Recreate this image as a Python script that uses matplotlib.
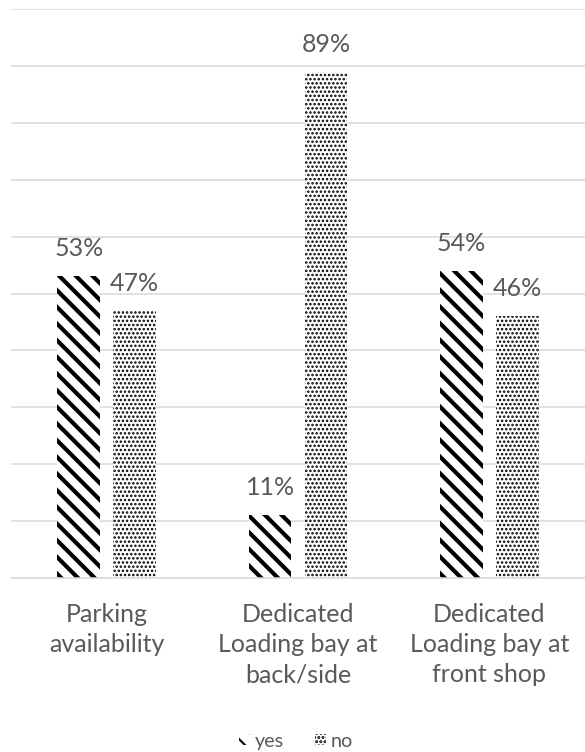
import matplotlib
matplotlib.use('Agg')
import matplotlib as mpl
import matplotlib.pyplot as plt
from matplotlib.patches import Patch
import numpy as np

# Data
categories = ['Parking\navailability',
              'Dedicated\nLoading bay at\nback/side',
              'Dedicated\nLoading bay at\nfront shop']
yes_vals = [0.53, 0.11, 0.54]
no_vals = [0.47, 0.89, 0.46]
series_names = ['yes', 'no']

TXT = '#595959'
GRID = '#d9d9d9'
plt.rcParams['font.family'] = ['Lato', 'DejaVu Sans']

YES_HATCH, YES_HLW = '\\\\\\', 2.0
NO_HATCH, NO_HLW = '......', 0.8

dpi = 150
fig = plt.figure(figsize=(585 / dpi, 753 / dpi), dpi=dpi)
ax = fig.add_axes([11 / 585, 1 - 579 / 753, 1 - 11 / 585, (579 - 10) / 753])

x = np.arange(len(categories))
width = 0.224
off = 0.146


def hatched_bar(xpos, vals, hatch, hlw):
    with mpl.rc_context({'hatch.linewidth': hlw}):
        bars = ax.bar(xpos, vals, width, facecolor='white', edgecolor='black',
                      linewidth=0, hatch=hatch)
    for b in bars:
        if hasattr(b, 'set_hatch_linewidth'):
            b.set_hatch_linewidth(hlw)
    return bars


b_yes = hatched_bar(x - off, yes_vals, YES_HATCH, YES_HLW)
b_no = hatched_bar(x + off, no_vals, NO_HATCH, NO_HLW)

# value labels
for xs, vals in [(x - off, yes_vals), (x + off, no_vals)]:
    for xi, v in zip(xs, vals):
        ax.text(xi, v + 0.05, '{:.0f}%'.format(v * 100), ha='center', va='center',
                color=TXT, fontsize=12)

ax.set_xlim(-0.5, len(categories) - 0.5)
ax.set_ylim(0, 1.0)
ax.set_yticks(np.arange(0, 1.01, 0.1))
ax.yaxis.grid(True, color=GRID, linewidth=0.75)
ax.set_axisbelow(True)
ax.tick_params(axis='y', left=False, labelleft=False)
ax.tick_params(axis='x', bottom=False, pad=8, colors=TXT, labelsize=12)
ax.set_xticks(x)
ax.set_xticklabels(categories, linespacing=1.38)
for s in ['top', 'right', 'left']:
    ax.spines[s].set_visible(False)
ax.spines['bottom'].set_color(GRID)
ax.spines['bottom'].set_linewidth(0.75)

# legend
handles = []
for name, hatch, hlw in [('yes', YES_HATCH, YES_HLW), ('no', NO_HATCH, NO_HLW)]:
    with mpl.rc_context({'hatch.linewidth': hlw}):
        p = Patch(facecolor='white', edgecolor='black', linewidth=0, hatch=hatch, label=name)
    if hasattr(p, 'set_hatch_linewidth'):
        p.set_hatch_linewidth(hlw)
    handles.append(p)
fig.legend(handles=handles, loc='center', bbox_to_anchor=(296 / 585, 1 - 742 / 753), ncol=2,
           frameon=False, fontsize=9.5, labelcolor=TXT, handlelength=0.55,
           handleheight=0.55, handletextpad=0.25, columnspacing=1.6)

fig.savefig('out.png', dpi=dpi)
